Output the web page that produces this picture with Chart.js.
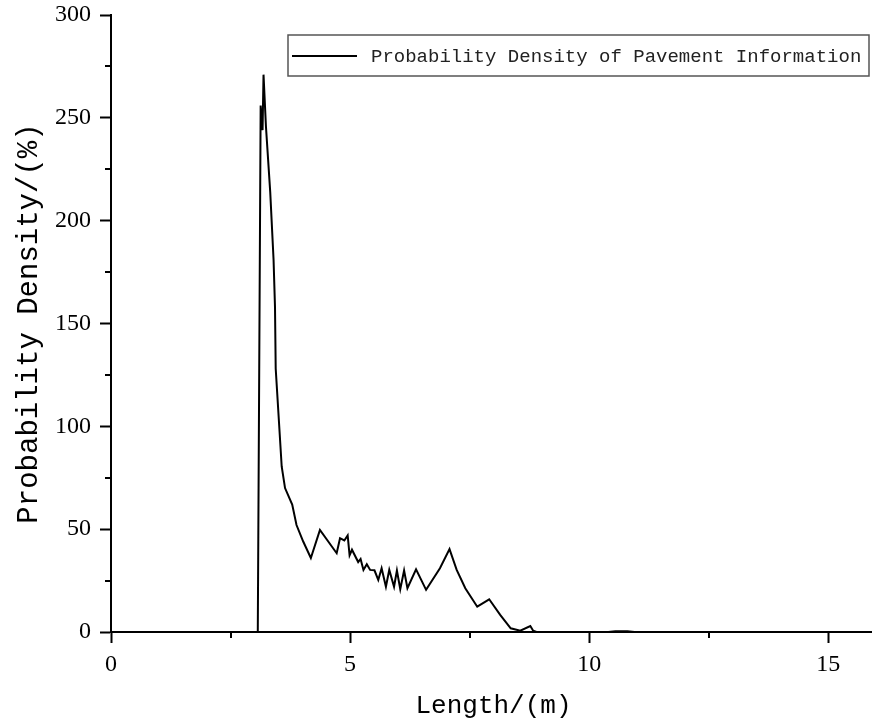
<!DOCTYPE html>
<html>
<head>
<meta charset="utf-8">
<script src="https://cdn.jsdelivr.net/npm/chart.js@4.4.1/dist/chart.umd.min.js"></script>
<style>
  html, body { margin: 0; padding: 0; background: #fff; overflow: hidden; }
  #wrap { width: 876px; height: 725px; }
</style>
</head>
<body>
<div id="wrap"><canvas id="densityChart"></canvas></div>
<script>
// values
const seriesLabel = 'Probability Density of Pavement Information';
const lengths = [0, 3.07, 3.13, 3.17, 3.19, 3.24, 3.33, 3.40, 3.43, 3.445, 3.57, 3.64, 3.79, 3.88, 4.02, 4.18,
  4.37, 4.72, 4.79, 4.88, 4.95, 4.99, 5.04, 5.17, 5.22, 5.28, 5.35, 5.42, 5.51, 5.59, 5.66, 5.75,
  5.82, 5.92, 5.98, 6.05, 6.13, 6.20, 6.38, 6.59, 6.88, 7.08, 7.23, 7.41, 7.66, 7.91, 8.14, 8.36,
  8.56, 8.77, 8.83, 8.9, 10.4, 10.55, 10.8, 10.95, 16];
const density = [0, 0, 256, 244, 271, 246, 214, 181, 158, 128, 80.5, 70, 62, 52, 44, 36,
  49.6, 38.3, 45.6, 44.5, 47, 37.3, 40, 34, 35.5, 30.2, 33, 30.2, 30, 25.3, 31, 22,
  30.2, 22, 29.9, 20.8, 29.9, 21.3, 30.5, 20.5, 31, 40.3, 30.2, 21.3, 12.3, 15.9, 8.3, 1.8,
  0.6, 2.9, 0.6, 0, 0, 0.4, 0.4, 0, 0];
const xMajorTicks = [0, 5, 10, 15];
const xMinorTicks = [2.5, 7.5, 12.5];
const yMajorTicks = [0, 50, 100, 150, 200, 250, 300];
const yMinorTicks = [25, 75, 125, 175, 225, 275];

const numFont = { family: '"Liberation Serif", "DejaVu Serif", serif', size: 24 };
const textFamily = '"Liberation Mono", "DejaVu Sans Mono", monospace';

// short minor ticks drawn outside the axes
const minorTicks = {
  id: 'minorTicks',
  afterDraw(chart) {
    const ctx = chart.ctx;
    const xs = chart.scales.x, ys = chart.scales.y;
    const area = chart.chartArea;
    ctx.save();
    ctx.strokeStyle = '#000';
    ctx.lineWidth = 2;
    ctx.beginPath();
    xMinorTicks.forEach(v => {
      const px = Math.round(xs.getPixelForValue(v));
      ctx.moveTo(px, area.bottom);
      ctx.lineTo(px, area.bottom + 6);
    });
    yMinorTicks.forEach(v => {
      const py = Math.round(ys.getPixelForValue(v));
      ctx.moveTo(area.left, py);
      ctx.lineTo(area.left - 6, py);
    });
    ctx.stroke();
    ctx.restore();
  }
};

// framed legend inside the plot, top right
const boxedLegend = {
  id: 'boxedLegend',
  afterDraw(chart) {
    const ctx = chart.ctx;
    const area = chart.chartArea;
    const ds = chart.data.datasets[0];
    const left = area.left + 177, top = area.top + 20;
    const w = 581, h = 41;
    ctx.save();
    ctx.strokeStyle = '#555';
    ctx.lineWidth = 1.5;
    ctx.strokeRect(left, top, w, h);
    ctx.strokeStyle = ds.borderColor;
    ctx.lineWidth = 2;
    ctx.beginPath();
    ctx.moveTo(left + 4, top + 21);
    ctx.lineTo(left + 69, top + 21);
    ctx.stroke();
    ctx.fillStyle = '#222';
    ctx.font = '19px ' + textFamily;
    ctx.textBaseline = 'middle';
    ctx.fillText(ds.label, left + 83, top + 22);
    ctx.restore();
  }
};

new Chart(document.getElementById('densityChart'), {
  type: 'line',
  data: {
    datasets: [{
      label: seriesLabel,
      data: lengths.map((x, i) => ({ x: x, y: density[i] })),
      borderColor: '#000',
      borderWidth: 2,
      pointRadius: 0,
      tension: 0,
      fill: false
    }]
  },
  options: {
    responsive: true,
    maintainAspectRatio: false,
    animation: false,
    layout: { padding: { top: 15, right: 0, left: 0, bottom: 0 } },
    plugins: {
      legend: { display: false },
      tooltip: { enabled: false }
    },
    scales: {
      x: {
        type: 'linear',
        min: 0,
        max: 16,
        afterFit: s => { s.height = 93; s.paddingLeft = 0; s.paddingRight = 0; },
        afterBuildTicks: s => { s.ticks = xMajorTicks.map(v => ({ value: v })); },
        border: { color: '#000', width: 2 },
        grid: { drawOnChartArea: false, tickLength: 11, tickColor: '#000', tickWidth: 2 },
        ticks: { color: '#000', font: numFont, padding: 7, maxRotation: 0 },
        title: {
          display: true,
          text: 'Length/(m)',
          color: '#000',
          font: { family: textFamily, size: 26 },
          padding: { top: 0, bottom: 3 }
        }
      },
      y: {
        min: 0,
        max: 300,
        afterFit: s => { s.width = 111; s.paddingTop = 0; s.paddingBottom = 0; },
        afterBuildTicks: s => { s.ticks = yMajorTicks.map(v => ({ value: v })); },
        border: { color: '#000', width: 2 },
        grid: { drawOnChartArea: false, tickLength: 11, tickColor: '#000', tickWidth: 2 },
        ticks: { color: '#000', font: numFont, padding: 9 },
        title: {
          display: true,
          text: 'Probability Density/(%)',
          color: '#000',
          font: { family: textFamily, size: 29 },
          padding: { top: 12, bottom: 0 }
        }
      }
    }
  },
  plugins: [minorTicks, boxedLegend]
});
</script>
</body>
</html>
